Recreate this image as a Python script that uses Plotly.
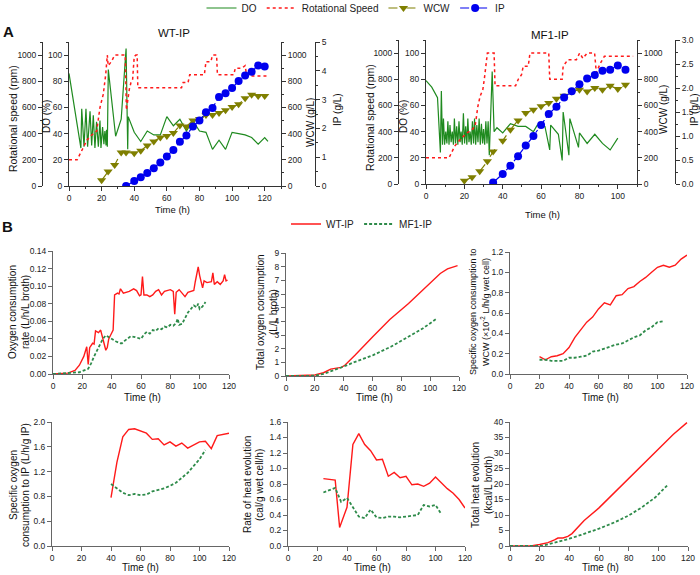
import plotly.graph_objects as go

# ---------------- Panel A : WT-IP ----------------
do_wt_t = [0, 7.3, 7.8, 9.2, 10.4, 11.4, 12.9, 13.9, 14.9, 15.9, 16.9, 18, 19, 19.6, 20.6, 21.4, 22, 22.7, 23, 23.5,
           24.1, 28.6, 32, 35, 36, 36.3, 40, 44, 48, 52, 56, 60, 64, 68, 72, 76, 80, 84, 88, 92,
           96, 100, 104, 108, 112, 116, 120, 122]
do_wt = [86, 29, 59, 30, 59, 30, 57, 31, 54, 29, 49, 30, 50, 29, 45, 32, 42, 31, 43, 30,
         89, 38, 51, 105, 28, 53, 41, 34, 42, 39, 39, 53, 46, 51, 42, 50, 42, 41, 28, 35,
         28, 41, 40, 39, 37, 32, 37, 34]

rpm_wt_t = [0, 5, 7, 9, 11, 13, 15, 17, 19, 21, 22.5, 23.5, 24, 26, 28, 34.5, 35.2, 36, 37, 38,
            39, 40, 41, 41.8, 42.2, 69, 70, 73, 74, 83, 84, 87, 88, 90.5, 91, 101, 102, 106, 108, 109, 122]
rpm_wt = [200, 200, 250, 300, 350, 380, 400, 420, 600, 700, 850, 1000, 920, 950, 1000, 1000, 580, 660, 740, 790,
          810, 990, 1000, 1000, 750, 750, 790, 790, 850, 850, 950, 950, 1000, 1000, 850, 850, 900, 900, 920, 840, 840]

wcw_wt_t = [20, 24, 28, 32, 35, 40, 44, 48, 52, 56, 60, 64, 68, 72, 76, 80, 84, 88, 92, 96, 100, 104, 108, 112, 116, 120]
wcw_wt = [43, 110, 161, 256, 256, 251, 269, 309, 340, 371, 381, 404, 463, 455, 501, 511, 542, 542, 557, 578,
          604, 624, 670, 698, 688, 688]

ip_wt_t = [35, 40, 44, 48, 52, 56, 60, 64, 68, 72, 76, 80, 84, 88, 92, 96, 100, 104, 108, 112, 116, 120]
ip_wt = [0.0, 0.17, 0.3, 0.45, 0.62, 0.82, 1.02, 1.25, 1.54, 1.75, 2.07, 2.27, 2.56, 2.71, 3.09, 3.22, 3.4,
         3.65, 3.84, 3.97, 4.18, 4.15]

# ---------------- Panel A : MF1-IP ----------------
do_mf_t = [0, 3, 6, 7.5, 8, 8.6,
           9.1, 9.7, 10.3, 10.9, 11.4, 12, 12.5, 13.1, 13.7, 14.3, 14.8, 15.4, 16, 16.6, 17.2, 17.8, 18.3, 18.9, 19.5, 20.1,
           20.7, 21.3, 21.8, 22.4, 23, 23.6, 24.2, 24.8, 25.3, 25.9, 26.5, 27.1, 27.7, 28.3, 28.9, 29.5, 30, 30.6, 31.2, 31.8,
           32.4, 33, 34.5, 35.5, 37, 40, 44, 48, 52, 56, 58, 62, 64.5, 65, 69, 71, 71.5, 73, 74.5, 75, 79.5, 80,
           82, 84, 88, 92, 96, 100]
do_mf = [79, 74, 66, 24, 71, 30,
         50, 30, 40, 31, 48, 30, 45, 32, 40, 30, 50, 31, 44, 30, 48, 32, 40, 30, 54, 31,
         44, 30, 50, 32, 40, 30, 48, 31, 50, 30, 45, 32, 50, 30, 46, 31, 42, 30, 48, 31,
         48, 22, 86, 40, 43, 39, 46, 44, 44, 40, 45, 44, 26, 45, 38, 18, 55, 38, 22, 50, 28, 39,
         35, 31, 38, 31, 26, 35]

rpm_mf_t = [0, 12, 15, 17.8, 21.3, 24, 25.6, 27, 28.2, 29.6, 30.4, 32, 35.5, 36, 46.7, 48.1, 49.8, 50.7, 53.3, 54.2,
            64, 64.5, 71, 71.5, 74, 78.4, 80.1, 81.8, 84, 87.9, 88.8, 90.8, 93, 108]
rpm_mf = [200, 200, 290, 340, 390, 415, 440, 590, 670, 720, 800, 1000, 1000, 750, 750, 800, 835, 900, 900, 1000,
          1000, 800, 800, 900, 950, 950, 1000, 960, 1000, 1000, 850, 920, 975, 975]

wcw_mf_t = [20, 24, 28, 32, 35, 40, 44, 48, 52, 56, 60, 64, 68, 72, 76, 80, 84, 88, 92, 96, 100, 104]
wcw_mf = [25, 51, 97, 173, 249, 331, 415, 486, 542, 567, 593, 618, 651, 674, 707, 720, 707, 733, 720, 751, 725, 758]

ip_mf_t = [35, 40, 44, 48, 52, 56, 60, 64, 68, 72, 76, 80, 84, 88, 92, 96, 100, 104]
ip_mf = [0.03, 0.21, 0.38, 0.58, 0.8, 1.0, 1.23, 1.46, 1.61, 1.80, 1.93, 2.08, 2.2, 2.27, 2.36, 2.38, 2.47, 2.38]

# ---------------- Panel B ----------------
ocr_wt_t = [0, 10, 15, 18, 21, 23, 24, 25, 27, 28, 29, 31, 32.5, 34, 36, 37, 38, 39.5, 41, 42,
            44, 45, 46, 48, 50, 52, 55, 57, 59, 60, 61, 62, 64, 66, 68, 70, 72, 74, 76, 78,
            80, 82, 83, 84, 86, 88, 90, 92, 94, 96, 97, 99, 100, 102, 103, 105, 108, 109, 110, 112,
            114, 116, 117, 118, 119]
ocr_wt = [0, 0.001, 0.004, 0.01, 0.02, 0.031, 0.011, 0.03, 0.035, 0.034, 0.049, 0.047, 0.05, 0.04, 0.027, 0.03, 0.04, 0.045, 0.05, 0.09,
          0.092, 0.091, 0.097, 0.092, 0.093, 0.094, 0.097, 0.095, 0.089, 0.09, 0.111, 0.09, 0.09, 0.088, 0.09, 0.094, 0.096, 0.09, 0.094, 0.095,
          0.096, 0.094, 0.068, 0.093, 0.096, 0.092, 0.088, 0.093, 0.094, 0.095, 0.105, 0.122, 0.112, 0.098, 0.106, 0.104, 0.105, 0.115, 0.102, 0.105,
          0.102, 0.106, 0.113, 0.106, 0.107]
ocr_mf_t = [0, 10, 18, 24, 26, 28, 31, 34, 36, 38, 40, 43, 46, 47, 49, 51, 53, 56, 58, 60,
            62, 64, 66, 68, 70, 72, 74, 76, 78, 80, 82, 84, 85, 86, 88, 90, 92, 94, 96, 98, 99, 100, 102, 104]
ocr_mf = [0, 0.001, 0.002, 0.006, 0.012, 0.02, 0.03, 0.04, 0.044, 0.042, 0.04, 0.037, 0.035, 0.035, 0.038, 0.041, 0.043, 0.042, 0.041, 0.04,
          0.045, 0.048, 0.046, 0.05, 0.049, 0.052, 0.051, 0.054, 0.053, 0.056, 0.055, 0.058, 0.063, 0.056, 0.057, 0.064, 0.07, 0.074, 0.078, 0.076,
          0.08, 0.074, 0.077, 0.082]

toc_wt_t = [0, 15, 20, 26, 31, 35, 38.5, 41, 48, 60, 72, 85, 97, 107, 112, 119]
toc_wt = [0, 0.02, 0.07, 0.24, 0.5, 0.58, 0.63, 0.8, 1.53, 2.86, 4.13, 5.3, 6.5, 7.5, 7.84, 8.08]
toc_mf_t = [0, 20, 26, 31, 38.5, 48, 60.5, 72.7, 85, 94.8, 104.6]
toc_mf = [0, 0.02, 0.15, 0.32, 0.63, 1.04, 1.53, 2.14, 2.86, 3.47, 4.2]

sow_t = [20, 24, 28, 32, 36, 40, 44, 48, 52, 56, 60, 64, 68, 72, 76, 80, 84, 88, 92, 96, 100, 104, 108, 112, 116, 120]
sow_wt = [0.17, 0.14, 0.17, 0.18, 0.2, 0.26, 0.36, 0.44, 0.51, 0.56, 0.64, 0.7, 0.68, 0.77, 0.78, 0.84, 0.86, 0.91,
          0.95, 1.0, 1.05, 1.07, 1.05, 1.07, 1.13, 1.17]
sow_mf_t = [20, 24, 28, 32, 36, 40, 44, 48, 52, 56, 60, 64, 68, 72, 76, 80, 84, 88, 92, 96, 100, 104]
sow_mf = [0.14, 0.14, 0.13, 0.13, 0.13, 0.16, 0.16, 0.17, 0.18, 0.22, 0.23, 0.25, 0.27, 0.29, 0.3, 0.33, 0.36, 0.38,
          0.43, 0.46, 0.51, 0.52]

soi_t = [40, 44, 48, 52, 56, 60, 64, 68, 72, 76, 80, 84, 88, 92, 96, 100, 104, 108, 112, 116, 120]
soi_wt = [0.78, 1.35, 1.76, 1.88, 1.89, 1.86, 1.82, 1.72, 1.73, 1.63, 1.68, 1.61, 1.66, 1.58, 1.63, 1.68, 1.69,
          1.57, 1.78, 1.8, 1.82]
soi_mf_t = [40, 44, 48, 52, 56, 60, 64, 68, 72, 76, 80, 84, 88, 92, 96, 100, 104]
soi_mf = [1.0, 0.93, 0.86, 0.82, 0.84, 0.82, 0.83, 0.88, 0.9, 0.93, 0.97, 1.02, 1.1, 1.18, 1.29, 1.4, 1.55]

rhe_wt_t = [24, 28, 32, 35, 40, 44, 48, 52, 56, 60, 64, 68, 72, 76, 80, 84, 88, 92, 96, 100, 104, 108, 112, 116, 120]
rhe_wt = [0.87, 0.86, 0.85, 0.24, 0.5, 1.31, 1.45, 1.31, 1.23, 1.11, 1.12, 0.9, 0.95, 0.88, 0.9, 0.79, 0.8, 0.77,
          0.81, 0.89, 0.81, 0.74, 0.68, 0.6, 0.49]
rhe_mf_t = [24, 28, 32, 36, 40, 44, 48, 52, 56, 60, 64, 68, 72, 76, 80, 84, 88, 92, 96, 100, 104]
rhe_mf = [0.69, 0.72, 0.75, 0.57, 0.62, 0.5, 0.38, 0.36, 0.47, 0.37, 0.36, 0.38, 0.38, 0.37, 0.38, 0.39, 0.4,
          0.53, 0.51, 0.53, 0.41]

heat_wt_t = [0, 15, 20, 25.6, 30, 32.3, 35.7, 39, 41.8, 45.9, 50, 60, 70, 80, 90, 100, 110, 119.3]
heat_wt = [0, 0.1, 0.5, 1.07, 2.0, 2.57, 2.57, 3.1, 4.0, 6.1, 8.2, 12.3, 17, 21.8, 26.5, 31.3, 36, 39.8]
heat_mf_t = [0, 21, 25.6, 32.3, 40, 48, 60, 70.8, 80, 89, 98, 105.9]
heat_mf = [0, 0, 0.5, 1.3, 2.35, 3.6, 5.6, 7.7, 9.85, 12.5, 15.7, 19.5]

# ---------------- styling ----------------
FONT = "Liberation Sans, Arial, sans-serif"
AX = "#333333"
GREEN = "#1f8a1f"
RED = "#ff1a1a"
OLIVE = "#7f7f00"
BLUE = "#0000ee"
MFGREEN = "#2e8b4a"

W, H = 700, 575
def fx(p): return p / W
def fy(p): return 1 - p / H

fig = go.Figure()

def top_panel(xa, ys, do_t, do_v, r_t, r_v, w_t, w_v, i_t, i_v, show):
    fig.add_trace(go.Scatter(x=do_t, y=do_v, mode="lines", name="DO", line=dict(color=GREEN, width=1.2),
                             xaxis=xa, yaxis=ys[0], showlegend=show, legend="legend"))
    fig.add_trace(go.Scatter(x=r_t, y=r_v, mode="lines", name="Rotational Speed",
                             line=dict(color=RED, width=1.5, dash="dot"),
                             xaxis=xa, yaxis=ys[1], showlegend=show, legend="legend"))
    fig.add_trace(go.Scatter(x=w_t, y=w_v, mode="lines+markers", name="WCW",
                             line=dict(color=OLIVE, width=1.2, dash="dash"),
                             marker=dict(symbol="triangle-down", size=8, color=OLIVE),
                             xaxis=xa, yaxis=ys[2], showlegend=show, legend="legend"))
    fig.add_trace(go.Scatter(x=i_t, y=i_v, mode="lines+markers", name="IP",
                             line=dict(color=BLUE, width=1.2, dash="dashdot"),
                             marker=dict(symbol="circle", size=8, color=BLUE),
                             xaxis=xa, yaxis=ys[3], showlegend=show, legend="legend"))

top_panel("x", ["y", "y2", "y3", "y4"], do_wt_t, do_wt, rpm_wt_t, rpm_wt, wcw_wt_t, wcw_wt, ip_wt_t, ip_wt, True)
top_panel("x2", ["y5", "y6", "y7", "y8"], do_mf_t, do_mf, rpm_mf_t, rpm_mf, wcw_mf_t, wcw_mf, ip_mf_t, ip_mf, False)

bottom = [
    (ocr_wt_t, ocr_wt, ocr_mf_t, ocr_mf),
    (toc_wt_t, toc_wt, toc_mf_t, toc_mf),
    (sow_t, sow_wt, sow_mf_t, sow_mf),
    (soi_t, soi_wt, soi_mf_t, soi_mf),
    (rhe_wt_t, rhe_wt, rhe_mf_t, rhe_mf),
    (heat_wt_t, heat_wt, heat_mf_t, heat_mf),
]
for k, (wt_t, wt_v, mf_t, mf_v) in enumerate(bottom):
    xa = "x%d" % (k + 3)
    ya = "y%d" % (k + 9)
    fig.add_trace(go.Scatter(x=wt_t, y=wt_v, mode="lines", name="WT-IP", line=dict(color=RED, width=1.4),
                             xaxis=xa, yaxis=ya, showlegend=(k == 0), legend="legend2"))
    fig.add_trace(go.Scatter(x=mf_t, y=mf_v, mode="lines", name="MF1-IP",
                             line=dict(color=MFGREEN, width=1.8, dash="3px,2px"),
                             xaxis=xa, yaxis=ya, showlegend=(k == 0), legend="legend2"))

def axstyle(size=9, minor=None, color=AX):
    d = dict(showline=True, linecolor=color, linewidth=1, ticks="outside", ticklen=4, tickcolor=color,
             tickwidth=1, showgrid=False, zeroline=False, automargin=False,
             tickfont=dict(family=FONT, size=size, color="#222222"))
    if minor is not None:
        d["minor"] = dict(ticks="outside", ticklen=2, dtick=minor, tick0=0, tickcolor=color, showgrid=False)
    return d

layout = dict(width=W, height=H, margin=dict(l=0, r=0, t=0, b=0, pad=0, autoexpand=False), autosize=False,
              paper_bgcolor="white", plot_bgcolor="white",
              font=dict(family=FONT, size=10, color="#222222"))

TF = 8.5
# Top-left
layout["xaxis"] = dict(domain=[fx(69), fx(281)], range=[0, 130], tick0=0, dtick=20, anchor="y", **axstyle(TF, 10))
layout["yaxis"] = dict(domain=[fy(186), fy(42)], range=[0, 110], tick0=0, dtick=20, anchor="x", **axstyle(TF, 10))
layout["yaxis2"] = dict(overlaying="y", anchor="free", position=fx(42), side="left", range=[0, 1100],
                        tick0=0, dtick=200, **axstyle(TF, 100))
layout["yaxis3"] = dict(overlaying="y", anchor="x", side="right", range=[0, 1100], tick0=0, dtick=200, **axstyle(TF, 100))
layout["yaxis4"] = dict(overlaying="y", anchor="free", position=fx(315), side="right", range=[0, 5],
                        tick0=0, dtick=1, **axstyle(TF, 0.5))
# Top-right
layout["xaxis2"] = dict(domain=[fx(426), fx(637)], range=[0, 110], tick0=0, dtick=20, anchor="y5", **axstyle(TF, 10))
layout["yaxis5"] = dict(domain=[fy(184), fy(40)], range=[0, 110], tick0=0, dtick=20, anchor="x2", **axstyle(TF, 10))
layout["yaxis6"] = dict(overlaying="y5", anchor="free", position=fx(398), side="left", range=[0, 1100],
                        tick0=0, dtick=200, **axstyle(TF, 100))
layout["yaxis7"] = dict(overlaying="y5", anchor="x2", side="right", range=[0, 1100], tick0=0, dtick=200, **axstyle(TF, 100))
layout["yaxis8"] = dict(overlaying="y5", anchor="free", position=fx(675), side="right", range=[0, 3],
                        tick0=0, dtick=0.5, tickformat=".1f", **axstyle(TF, 0.25))

# Bottom panels
bx = [(53, 229), (286, 459), (510, 687), (52, 229), (288, 465), (510, 688)]
by = [(374, 251), (376, 253), (374, 252), (546, 422), (546, 422), (546, 422)]
yr = [([0, 0.14], 0.02, ".2f"), ([0, 9], 1, ""), ([0, 1.2], 0.2, ".1f"),
      ([0, 2.0], 0.4, ".1f"), ([0, 1.6], 0.2, ".1f"), ([0, 40], 5, "")]
BAX = "#666666"
for k in range(6):
    layout["xaxis%d" % (k + 3)] = dict(domain=[fx(bx[k][0]), fx(bx[k][1])], range=[0, 120], tick0=0, dtick=20,
                                        anchor="y%d" % (k + 9), **axstyle(8.5, None, BAX))
    layout["yaxis%d" % (k + 9)] = dict(domain=[fy(by[k][0]), fy(by[k][1])], range=yr[k][0], tick0=0, dtick=yr[k][1],
                                        tickformat=yr[k][2], anchor="x%d" % (k + 3), **axstyle(8.5, None, BAX))

layout["legend"] = dict(orientation="h", x=fx(356), xanchor="center", y=fy(8), yanchor="middle",
                        font=dict(family=FONT, size=10), itemwidth=30, bgcolor="rgba(0,0,0,0)")
layout["legend2"] = dict(orientation="h", x=fx(362), xanchor="center", y=fy(224), yanchor="middle",
                         font=dict(family=FONT, size=10), itemwidth=30, bgcolor="rgba(0,0,0,0)")

def ann(text, x, y, size=10, angle=0, bold=False):
    return dict(text=("<b>%s</b>" % text) if bold else text, x=fx(x), y=fy(y), xref="paper", yref="paper",
                showarrow=False, textangle=angle, xanchor="center", yanchor="middle",
                font=dict(family=FONT, size=size, color="#111111"))

anns = [
    ann("A", 8, 32, 15, bold=True), ann("B", 7, 226, 15, bold=True),
    ann("WT-IP", 174, 33, 11.5), ann("MF1-IP", 550, 35, 11.5),
    ann("Rotational speed (rpm)", 13, 119, 10.5, -90), ann("DO (%)", 46, 117, 10, -90),
    ann("WCW (g/L)", 310, 123, 10, -90), ann("IP (g/L)", 337, 110, 10, -90),
    ann("Time (h)", 172, 209, 9.5),
    ann("Rotational speed (rpm)", 370, 118, 10.5, -90), ann("DO (%)", 403, 117, 10, -90),
    ann("WCW (g/L)", 663, 110, 10, -90), ann("IP (g/L)", 694, 110, 10, -90),
    ann("Time (h)", 542, 214, 9.5),
    # bottom y titles (two lines each)
    ann("Oxygen consumption", 12, 312, 10, -90), ann("rate (L/h/L broth)", 25, 312, 10, -90),
    ann("Total oxygen consumption", 260, 312, 10, -90), ann("(L/L broth)", 273, 312, 10, -90),
    ann("Specific oxygen consumption to", 473, 312, 9, -90),
    ann("WCW (×10<sup>-2</sup> L/h/g wet cell)", 485, 312, 9, -90),
    ann("Specific oxygen", 13, 485, 10, -90), ann("consumption to IP (L/h/g IP)", 25, 485, 10, -90),
    ann("Rate of heat evolution", 247, 485, 10, -90), ann("(cal/g wet cell/h)", 259, 485, 10, -90),
    ann("Total heat evolution", 475, 485, 10, -90), ann("(kcal/L broth)", 488, 485, 10, -90),
    ann("Time (h)", 142, 397, 10), ann("Time (h)", 374, 397, 10), ann("Time (h)", 600, 397, 10),
    ann("Time (h)", 140, 567, 10), ann("Time (h)", 373, 567, 10), ann("Time (h)", 600, 567, 10),
]
layout["annotations"] = anns

fig.update_layout(**layout)
fig.write_html("out.html", config={"displayModeBar": False},
               post_script="document.body.style.margin='0px';document.body.style.padding='0px';"
                           "document.body.style.overflow='hidden';")
